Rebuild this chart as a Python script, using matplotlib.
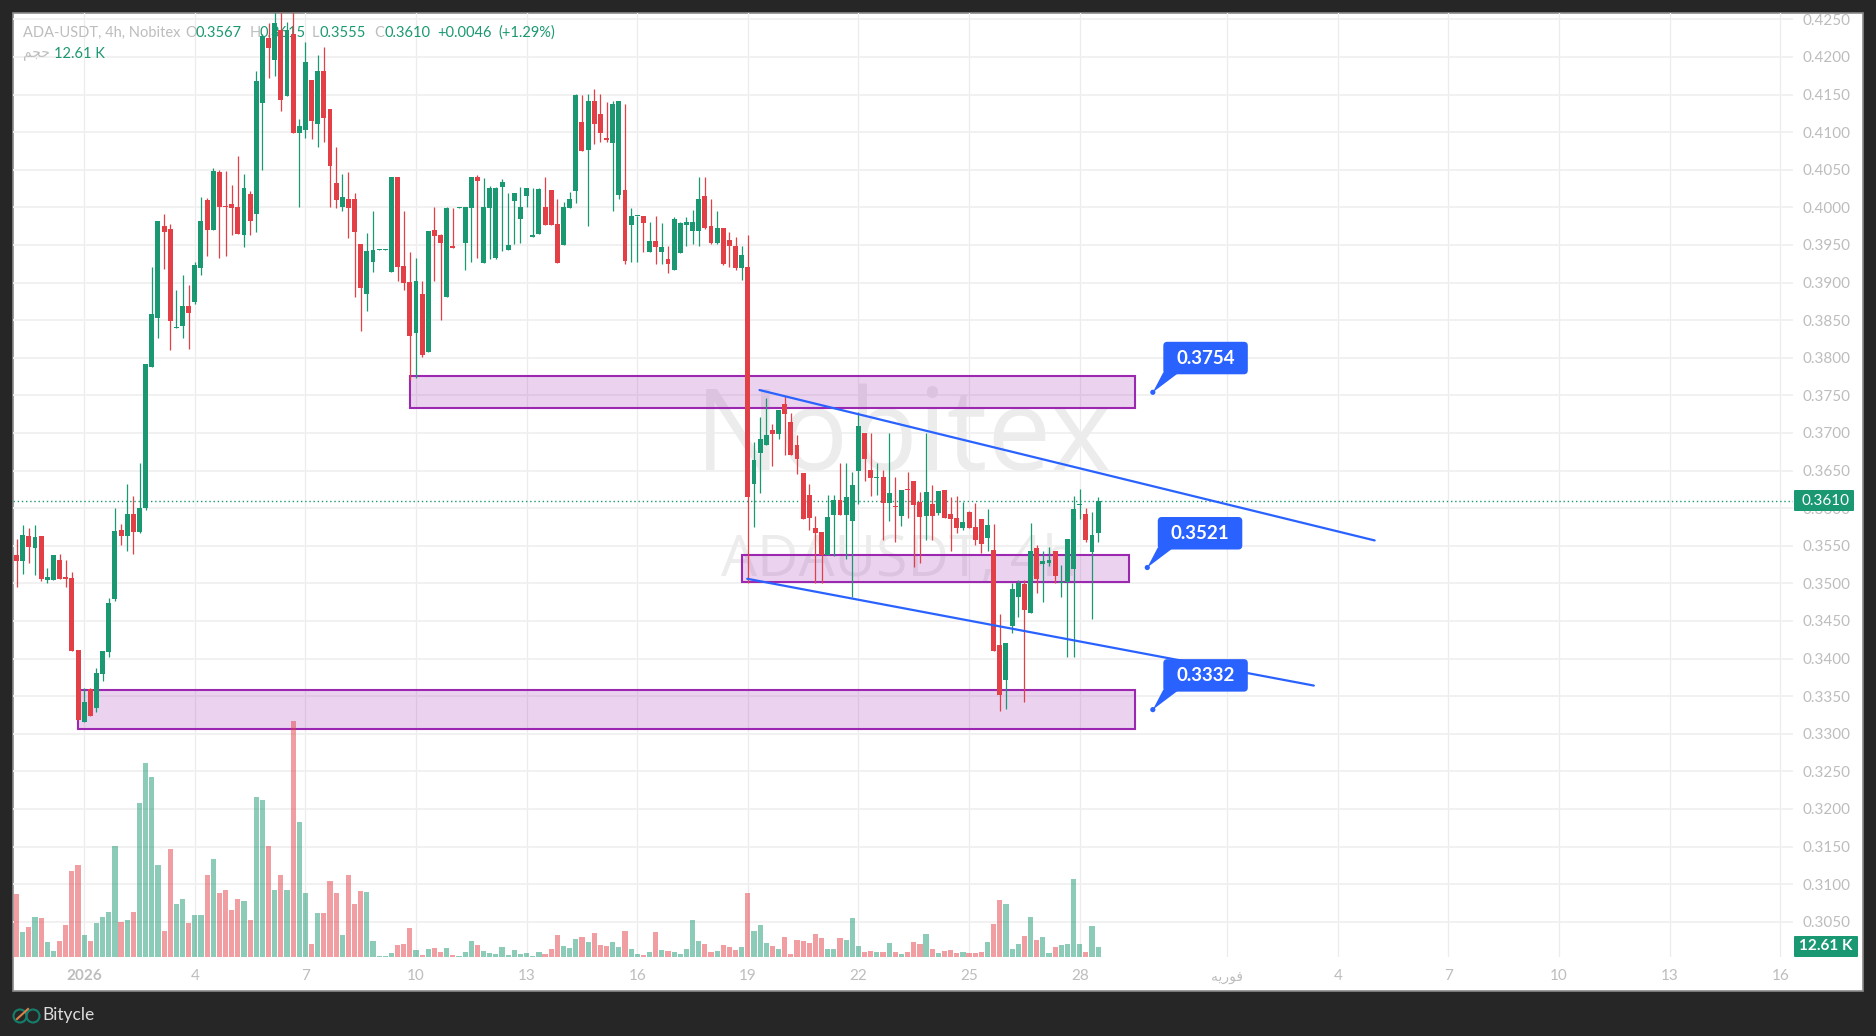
import numpy as np
import matplotlib as mpl
mpl.use('Agg')
import matplotlib.pyplot as plt
from matplotlib.patches import Rectangle, FancyBboxPatch, Polygon, Circle
from matplotlib.transforms import IdentityTransform

plt.rcParams['font.family'] = ['Lato', 'DejaVu Sans']

# 4h candles, first one sits 11 bars before 1 Jan 2026
first_bar = -11
opens = [.3538,.3530,.3563,.3547,.3563,.3504,.3504,.3531,.3507,.3507,.3411,
         .3315,.3359,.3334,.3379,.3409,.3479,.3571,.3563,.3592,.3568,
         .3600,.3788,.3853,.3975,.3971,.3839,.3842,.3869,.3874,.3919,
         .4010,.3970,.4047,.4001,.4004,.4000,.3963,.4018,.3991,.4139,
         .4225,.4196,.4236,.4148,.4231,.4099,.4103,.4169,.4111,.4181,
         .4131,.4032,.4000,.4011,.4011,.3951,.3885,.3927,.3943,.3943,
         .3914,.4040,.3922,.3901,.3833,.3885,.3808,.3970,.3963,.3881,
         .3947,.3999,.3953,.3999,.4040,.3926,.3999,.3933,.4027,.3943,
         .4008,.3985,.4015,.3961,.3965,.4000,.4023,.3978,.3950,.3999,
         .4022,.4113,.4076,.4141,.4124,.4092,.4086,.4016,
         .4023,.3977,.3988,.3989,.3940,.3955,.3941,.3931,.3917,.3939,
         .3977,.3969,.3969,.4015,.3975,.3953,.3973,.3957,.3949,.3919,
         .3921,.3632,.3673,.3684,.3704,.3699,.3738,.3715,.3684,.3647,
         .3618,.3574,.3568,.3538,.3591,.3611,.3591,.3583,.3649,.3700,
         .3651,.3640,.3641,.3607,.3602,.3590,.3625,.3636,.3608,.3590,
         .3606,.3593,.3624,.3592,.3587,.3574,.3595,.3575,.3586,.3560,
         .3544,.3418,.3371,.3443,.3482,.3499,.3461,.3547,.3526,.3527,
         .3543,.3500,.3502,.3519,.3604,.3592,.3542,.3567]
highs = [.3559,.3578,.3573,.3578,.3563,.3520,.3538,.3539,.3531,.3515,.3411,
         .3361,.3361,.3387,.3410,.3481,.3600,.3579,.3632,.3616,.3660,
         .3792,.3921,.3982,.3991,.3978,.3890,.3910,.3897,.3927,.4014,
         .4012,.4052,.4050,.4048,.4030,.4068,.4044,.4022,.4181,.4230,
         .4245,.4262,.4265,.4247,.4265,.4117,.4220,.4169,.4203,.4213,
         .4131,.4080,.4044,.4047,.4019,.3951,.3966,.3995,.3944,.3944,
         .4040,.4040,.3995,.3941,.3933,.3902,.3969,.4000,.3965,.4000,
         .3999,.4000,.4000,.4040,.4043,.4039,.4028,.4027,.4038,.4019,
         .4019,.4027,.4026,.4026,.4026,.4040,.4023,.4011,.4007,.4020,
         .4151,.4149,.4151,.4157,.4151,.4140,.4141,.4141,
         .4137,.3999,.3989,.3989,.3980,.3988,.3979,.3949,.3987,.3980,
         .3987,.3996,.4040,.4040,.4011,.3995,.3973,.3967,.3960,.3949,
         .3963,.3688,.3721,.3746,.3712,.3730,.3749,.3726,.3697,.3647,
         .3632,.3590,.3568,.3618,.3618,.3660,.3660,.3648,.3728,.3700,
         .3700,.3660,.3651,.3700,.3641,.3624,.3648,.3636,.3621,.3700,
         .3631,.3623,.3624,.3615,.3616,.3608,.3596,.3607,.3586,.3599,
         .3579,.3459,.3421,.3501,.3505,.3505,.3580,.3551,.3543,.3548,
         .3543,.3524,.3559,.3616,.3625,.3600,.3595,.3615]
lows = [.3495,.3513,.3527,.3511,.3503,.3501,.3504,.3506,.3495,.3410,.3318,
        .3315,.3324,.3329,.3370,.3402,.3476,.3551,.3543,.3539,.3567,
        .3598,.3788,.3826,.3918,.3810,.3839,.3826,.3812,.3871,.3910,
        .3935,.3970,.3933,.3935,.3963,.3965,.3947,.3963,.3967,.4050,
        .4172,.4175,.4128,.4148,.4099,.4000,.4092,.4091,.4080,.4087,
        .4000,.3999,.3995,.3959,.3881,.3836,.3862,.3914,.3943,.3943,
        .3914,.3902,.3890,.3770,.3773,.3801,.3808,.3902,.3850,.3881,
        .3946,.3999,.3917,.3927,.3933,.3926,.3931,.3931,.3942,.3943,
        .3951,.3953,.4000,.3961,.3965,.3976,.3976,.3926,.3950,.3999,
        .4006,.4075,.3975,.4084,.4087,.4087,.3995,.4011,
        .3925,.3927,.3927,.3941,.3940,.3924,.3924,.3913,.3917,.3939,
        .3948,.3951,.3948,.3971,.3951,.3951,.3923,.3921,.3916,.3903,
        .3501,.3575,.3620,.3684,.3656,.3692,.3671,.3671,.3645,.3586,
        .3571,.3501,.3501,.3538,.3536,.3591,.3532,.3482,.3606,.3636,
        .3616,.3617,.3558,.3583,.3555,.3576,.3587,.3522,.3527,.3558,
        .3558,.3591,.3587,.3543,.3567,.3571,.3574,.3551,.3540,.3543,
        .3410,.3330,.3333,.3434,.3455,.3342,.3461,.3487,.3475,.3523,
        .3501,.3482,.3402,.3402,.3586,.3555,.3453,.3555]
closes = [.3530,.3564,.3548,.3561,.3506,.3508,.3538,.3506,.3506,.3410,.3318,
          .3342,.3324,.3381,.3410,.3474,.3569,.3563,.3592,.3568,.3600,
          .3792,.3858,.3982,.3967,.3849,.3840,.3869,.3859,.3923,.3982,
          .3970,.4048,.4000,.4000,.3999,.3965,.4026,.3982,.4168,.4228,
          .4212,.4245,.4143,.4236,.4099,.4108,.4193,.4115,.4181,.4119,
          .4055,.4010,.4014,.3999,.3967,.3893,.3942,.3943,.3944,.3944,
          .4040,.3921,.3899,.3829,.3902,.3804,.3969,.3962,.3953,.3999,
          .3946,.4000,.4000,.4040,.4035,.4000,.4026,.4026,.4034,.3950,
          .4019,.4000,.4026,.3962,.4024,.3976,.3976,.3926,.4000,.4011,
          .4149,.4075,.4141,.4111,.4099,.4090,.4137,.4141,
          .3929,.3989,.3989,.3979,.3955,.3947,.3947,.3925,.3984,.3979,
          .3981,.3980,.4011,.3973,.3953,.3973,.3924,.3948,.3919,.3937,
          .3615,.3664,.3692,.3697,.3699,.3730,.3725,.3671,.3665,.3586,
          .3587,.3567,.3538,.3588,.3611,.3591,.3615,.3631,.3709,.3665,
          .3640,.3641,.3607,.3620,.3601,.3624,.3624,.3604,.3588,.3621,
          .3590,.3623,.3587,.3586,.3574,.3582,.3574,.3558,.3552,.3578,
          .3410,.3351,.3421,.3492,.3500,.3465,.3543,.3506,.3530,.3531,
          .3510,.3502,.3559,.3599,.3605,.3558,.3564,.3610]
# volume in thousands
volumes = [79,31,38,50,49,19,8,20,40,109,116,
           28,20,43,50,57,140,44,47,57,194,
           245,227,116,33,136,67,73,43,53,53,
           104,123,81,85,59,73,71,47,202,198,
           140,85,103,84,298,170,81,17,55,55,
           96,81,28,104,67,83,82,20,1,1,
           5,15,17,36,9,3,10,11,6,11,
           3,1,6,20,15,8,5,4,12,3,
           9,4,5,1,6,4,10,28,14,11,
           23,25,19,30,15,14,19,12,
           33,10,4,3,6,32,9,8,6,4,
           10,47,20,16,6,8,15,13,9,13,
           81,33,40,18,14,10,25,4,21,20,
           18,29,24,10,10,24,21,49,14,6,
           8,6,6,18,6,4,6,19,16,29,
           10,5,8,9,5,6,5,5,6,19,
           42,72,67,10,16,26,50,21,25,5,
           13,15,16,98,16,6,39,12.61]

price_ticks = [.305,.31,.315,.32,.325,.33,.335,.34,.345,.35,.355,.36,.365,.37,.375,.38,
               .385,.39,.395,.40,.405,.41,.415,.42,.425]
# days counted from 1 Jan, six 4h bars in each
date_days = [0,3,6,9,12,15,18,21,24,27,31,34,37,40,43,46]
date_labels = ['2026','4','7','10','13','16','19','22','25','28',
               '\ufeea\ufbfe\ufead\ufeee\ufed3','4','7','10','13','16']

zones = [(53,171,.3733,.3776),(107,170,.3502,.3538),(-1,171,.3306,.3358)]
channel_top = [(109.9,.3757),(210,.3557)]
channel_low = [(107.9,.3506),(200.1,.3364)]
notes = [(173.9,.3754,'0.3754'),(173,.3521,'0.3521'),(173.9,.3332,'0.3332')]
last_price = .3610

GREEN = '#1a9872'
RED = '#e33f47'
GREY = '#bdbdbd'
BLUE = '#2962ff'
DARK = '#262626'
W, H = 1876, 1036


def fx(x):
    return x / W


def fy(y):
    return 1 - y / H


fig = plt.figure(figsize=(W / 100, H / 100), dpi=100, facecolor=DARK)
fig.add_artist(Rectangle((fx(13), fy(991)), (1862.5 - 13) / W, (991 - 13) / H, transform=fig.transFigure,
                         facecolor='white', edgecolor='#8a8a8a', linewidth=1.2, zorder=0))

# main pane, price axis sits to the right of it
ax = fig.add_axes([fx(13), fy(957), (1793 - 13) / W, (957 - 13) / H])
ax.set_facecolor('none')
for s in ax.spines.values():
    s.set_visible(False)
ax.set_xlim((13 - 84.2) / 6.145, (1793 - 84.2) / 6.145)
ax.set_ylim(.425 - (957 - 19.3) / 7520, .425 + (19.3 - 13) / 7520)

# volume gets its own scale on the same pane
vax = ax.twinx()
vax.set_ylim(0, 944 * 1.261)
vax.yaxis.set_visible(False)
vax.set_facecolor('none')
for s in vax.spines.values():
    s.set_visible(False)

ax.yaxis.tick_right()
ax.set_yticks(price_ticks)
ax.set_yticklabels([f'{p:.4f}' for p in price_ticks])
ax.set_xticks([d * 6 for d in date_days])
ax.set_xticklabels(date_labels)
ax.tick_params(axis='both', length=0, labelcolor=GREY, labelsize=11)
ax.tick_params(axis='y', pad=7)
ax.tick_params(axis='x', pad=9)
for lab, txt in zip(ax.get_xticklabels(), date_labels):
    if txt == '2026':
        lab.set_fontweight('bold')
    if txt.startswith('\ufeea'):
        lab.set_family(['DejaVu Sans'])
        lab.set_fontsize(10)
ax.grid(True, axis='y', color='#f0f0f0', linewidth=1.3, zorder=0)
ax.grid(True, axis='x', color='#ececec', linewidth=0.9, zorder=0)
ax.set_axisbelow(True)

# watermarks
ax.text(fx(903), fy(470), 'Nobitex', transform=fig.transFigure, ha='center', va='baseline', fontsize=82,
        color='#ececec', zorder=1, family=['Open Sans', 'DejaVu Sans'])
ax.text(fx(899), fy(576), 'ADAUSDT, 4h', transform=fig.transFigure, ha='center', va='baseline', fontsize=41,
        color='#ececec', zorder=1, family=['Open Sans', 'DejaVu Sans'])

# legend lines, candles run over them
legend_line = [(23, 'ADA-USDT, 4h, Nobitex', GREY), (185, 'O', GREY), (195, '0.3567', GREEN),
               (250, 'H', GREY), (259, '0.3615', GREEN), (312, 'L', GREY), (319, '0.3555', GREEN),
               (374, 'C', GREY), (384, '0.3610', GREEN), (437, '+0.0046', GREEN), (498, '(+1.29%)', GREEN)]
for px, txt, col in legend_line:
    ax.text(fx(px), fy(33), txt, transform=fig.transFigure, va='center', fontsize=10.5, color=col, zorder=1.5)
ax.text(fx(23), fy(53), '\ufee2\ufea0\ufea3', transform=fig.transFigure, va='center', fontsize=10, color=GREY,
        zorder=1.5, family=['DejaVu Sans'])
ax.text(fx(54), fy(54), '12.61 K', transform=fig.transFigure, va='center', fontsize=10.5, color=GREEN, zorder=1.5)

for x0, x1, low, high in zones:
    ax.add_patch(Rectangle((x0, low), x1 - x0, high - low, facecolor=(156 / 255, 39 / 255, 176 / 255, .2),
                           edgecolor='#9c27b0', linewidth=1.5, zorder=2))

ax.axhline(last_price, color=GREEN, linewidth=1, linestyle=(0, (1, 2)), zorder=2.2)

bars = np.arange(len(opens)) + first_bar
o = np.array(opens)
c = np.array(closes)
colors = [GREEN if b else RED for b in c >= o]

vax.bar(bars, volumes, width=0.84, color=colors, alpha=0.5, linewidth=0, zorder=3)

wicks = ax.vlines(bars, lows, highs, color=colors, linewidth=0.9, zorder=4)
wicks.set_snap(True)
ax.bar(bars, np.maximum(np.abs(c - o), .0002), bottom=np.minimum(o, c), width=0.8, color=colors, linewidth=0, zorder=5)

# the two channel lines and the notes go on the top axes so they stay over the candles
top = fig.add_axes(ax.get_position(), sharex=ax, sharey=ax)
top.set_facecolor('none')
top.axis('off')
for line in (channel_top, channel_low):
    top.plot([p[0] for p in line], [p[1] for p in line], color=BLUE, linewidth=1.6, solid_capstyle='round', zorder=5)

for k, price, txt in notes:
    ax_px, ay_px = top.transData.transform((k, price))
    box_x = ax_px + 10.5
    box_y = ay_px + 18
    top.add_patch(FancyBboxPatch((box_x + 4, box_y + 4), 76.5, 24.5, boxstyle='round,pad=4', facecolor=BLUE,
                                 edgecolor='none', transform=IdentityTransform(), clip_on=False, zorder=6))
    top.add_patch(Polygon([(ax_px, ay_px), (box_x, box_y + 2), (box_x + 16, box_y + 2)], facecolor=BLUE,
                          edgecolor='none', transform=IdentityTransform(), clip_on=False, zorder=6))
    top.add_patch(Circle((ax_px, ay_px), 2.6, facecolor=BLUE, edgecolor='none', transform=IdentityTransform(),
                         clip_on=False, zorder=6))
    top.text(box_x + 42, box_y + 16, txt, color='white', fontsize=13.5, fontweight='bold', ha='center',
             va='center', transform=IdentityTransform(), zorder=7)

# labels on the price axis
fig.add_artist(FancyBboxPatch((1795, H - 510), 58, 19, boxstyle='round,pad=1', facecolor=GREEN, edgecolor='none',
                              transform=IdentityTransform(), zorder=8))
fig.text(fx(1825), fy(501), '0.3610', color='white', fontsize=11, ha='center', va='center', zorder=9)
fig.add_artist(FancyBboxPatch((1795, H - 956), 62, 19, boxstyle='round,pad=1', facecolor=GREEN, edgecolor='none',
                              transform=IdentityTransform(), zorder=8))
fig.text(fx(1826), fy(946.5), '12.61 K', color='white', fontsize=11, ha='center', va='center', zorder=9,
         fontweight='bold')

# bottom bar logo
for cx in (20, 33):
    fig.add_artist(Circle((cx, H - 1016), 6.5, facecolor='none', edgecolor='#157f6c', linewidth=1.5,
                          transform=IdentityTransform()))
fig.add_artist(plt.Line2D([fx(17), fx(28)], [fy(1019), fy(1009)], color='#d9824a', linewidth=1.5))
fig.text(fx(42), fy(1015), 'Bitycle', color='#dcdcdc', fontsize=12.5, va='center')

fig.savefig('out.png', dpi=100, facecolor=fig.get_facecolor())
